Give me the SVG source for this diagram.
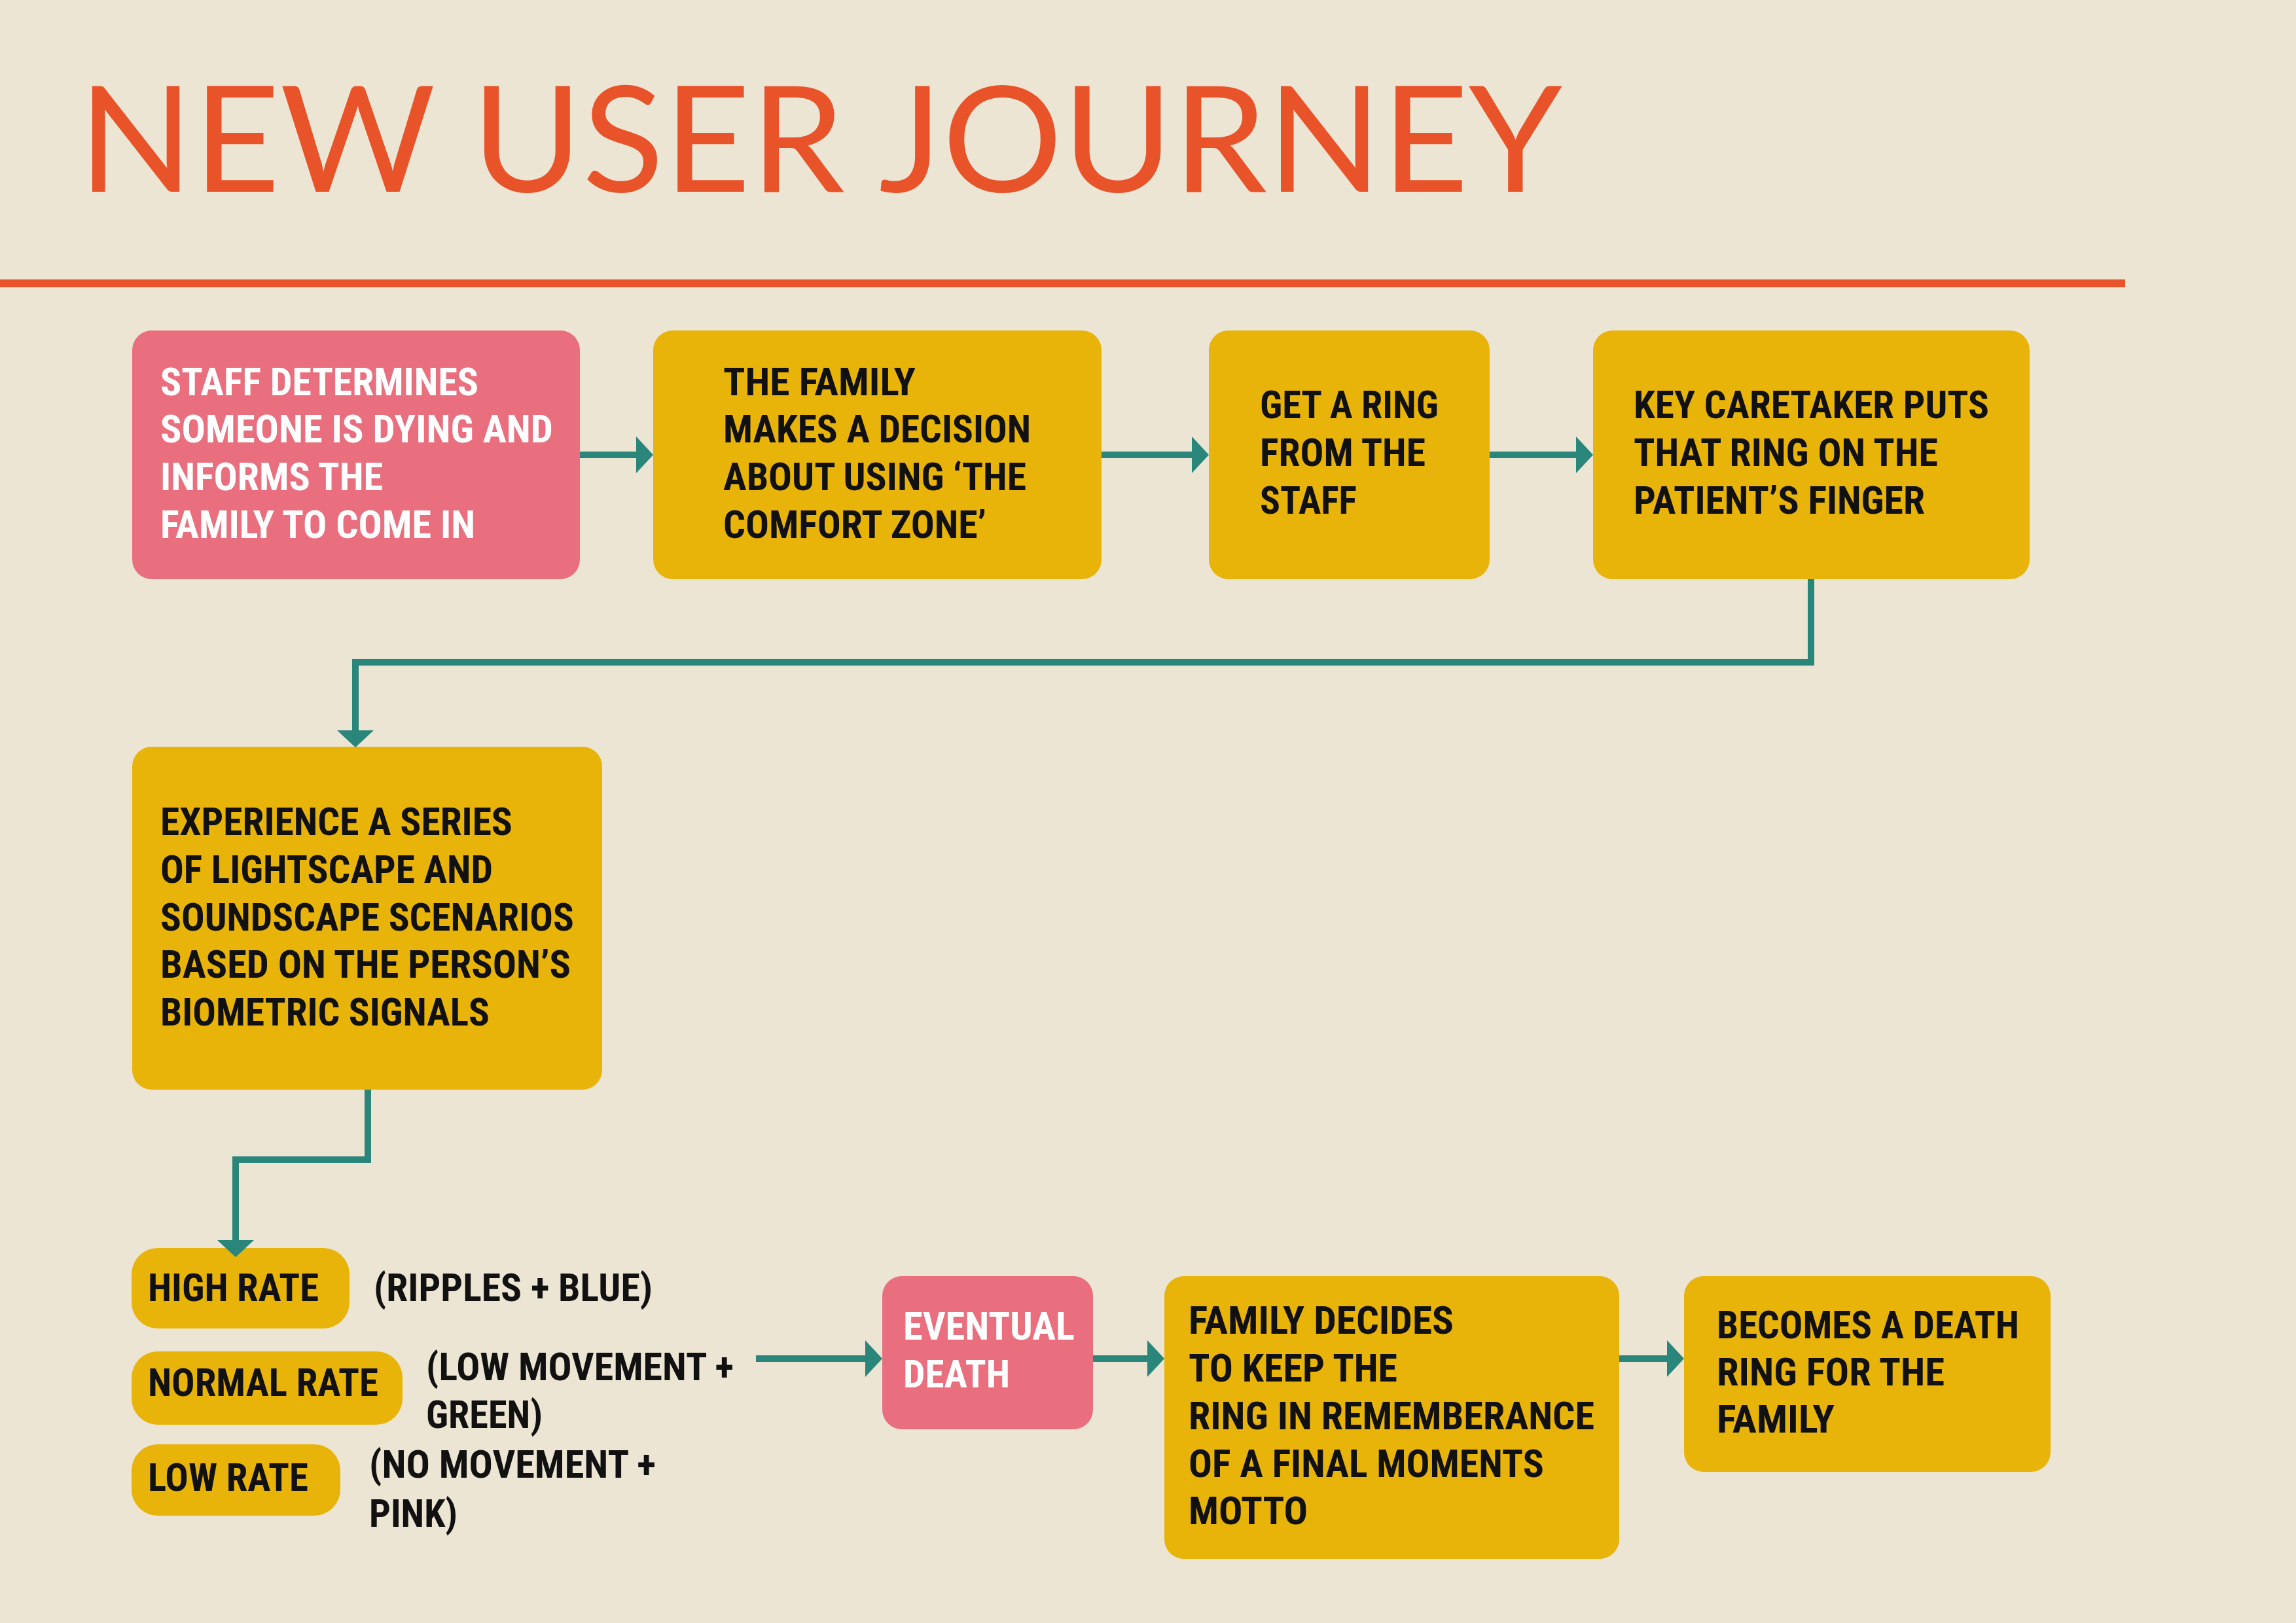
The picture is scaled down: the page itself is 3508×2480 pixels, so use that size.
<svg xmlns="http://www.w3.org/2000/svg" width="3508" height="2480" viewBox="0 0 3508 2480">
<defs>
<style>
.bg{fill:#ECE5D3}
.pink{fill:#E96F7F}
.yel{fill:#E8B40A}
.t{font-family:"Liberation Sans Narrow","Roboto Condensed","DejaVu Sans Condensed","Liberation Sans",sans-serif;font-weight:bold;font-size:60px}
.w{fill:#FFFFFF}
.k{fill:#111111}
.title{font-family:Lato,"Open Sans","Liberation Sans",sans-serif;font-size:225px;fill:#E8532A}
.con{fill:none;stroke:#2A857A;stroke-width:10;marker-end:url(#ah)}
</style>
<marker id="ah" viewBox="0 0 26 56" refX="6" refY="28" markerWidth="26" markerHeight="56" markerUnits="userSpaceOnUse" orient="auto">
<path d="M0,0 L26,28 L0,56 Z" fill="#2A857A"/>
</marker>
</defs>
<rect class="bg" x="0" y="0" width="3508" height="2480"/>
<g id="header">
<text class="title" x="120" y="293" textLength="2267" lengthAdjust="spacingAndGlyphs">NEW USER JOURNEY</text>
<rect x="0" y="427" width="3247" height="12" fill="#E8532A"/>
</g>
<g id="node-staff">
<rect class="pink" x="202" y="505" width="684" height="380" rx="30"/>
<text class="t w" x="245" y="604" textLength="486" lengthAdjust="spacingAndGlyphs">STAFF DETERMINES</text>
<text class="t w" x="245" y="676" textLength="600" lengthAdjust="spacingAndGlyphs">SOMEONE IS DYING AND</text>
<text class="t w" x="245" y="749" textLength="340" lengthAdjust="spacingAndGlyphs">INFORMS THE</text>
<text class="t w" x="245" y="822" textLength="481" lengthAdjust="spacingAndGlyphs">FAMILY TO COME IN</text>
</g>
<g id="node-decision">
<rect class="yel" x="998" y="505" width="685" height="380" rx="30"/>
<text class="t k" x="1105" y="604" textLength="294" lengthAdjust="spacingAndGlyphs">THE FAMILY</text>
<text class="t k" x="1105" y="676" textLength="470" lengthAdjust="spacingAndGlyphs">MAKES A DECISION</text>
<text class="t k" x="1105" y="749" textLength="463" lengthAdjust="spacingAndGlyphs">ABOUT USING ‘THE</text>
<text class="t k" x="1105" y="822" textLength="402" lengthAdjust="spacingAndGlyphs">COMFORT ZONE’</text>
</g>
<g id="node-ring">
<rect class="yel" x="1847" y="505" width="429" height="380" rx="30"/>
<text class="t k" x="1925" y="639" textLength="273" lengthAdjust="spacingAndGlyphs">GET A RING</text>
<text class="t k" x="1925" y="712" textLength="253" lengthAdjust="spacingAndGlyphs">FROM THE</text>
<text class="t k" x="1925" y="785" textLength="148" lengthAdjust="spacingAndGlyphs">STAFF</text>
</g>
<g id="node-caretaker">
<rect class="yel" x="2434" y="505" width="667" height="380" rx="30"/>
<text class="t k" x="2496" y="639" textLength="543" lengthAdjust="spacingAndGlyphs">KEY CARETAKER PUTS</text>
<text class="t k" x="2496" y="712" textLength="465" lengthAdjust="spacingAndGlyphs">THAT RING ON THE</text>
<text class="t k" x="2496" y="785" textLength="445" lengthAdjust="spacingAndGlyphs">PATIENT’S FINGER</text>
</g>
<g id="node-experience">
<rect class="yel" x="202" y="1141" width="718" height="524" rx="30"/>
<text class="t k" x="245" y="1276" textLength="538" lengthAdjust="spacingAndGlyphs">EXPERIENCE A SERIES</text>
<text class="t k" x="245" y="1349" textLength="508" lengthAdjust="spacingAndGlyphs">OF LIGHTSCAPE AND</text>
<text class="t k" x="245" y="1422" textLength="632" lengthAdjust="spacingAndGlyphs">SOUNDSCAPE SCENARIOS</text>
<text class="t k" x="245" y="1494" textLength="627" lengthAdjust="spacingAndGlyphs">BASED ON THE PERSON’S</text>
<text class="t k" x="245" y="1567" textLength="503" lengthAdjust="spacingAndGlyphs">BIOMETRIC SIGNALS</text>
</g>
<g id="node-high">
<rect class="yel" x="201" y="1907" width="333" height="123" rx="40"/>
<text class="t k" x="226" y="1988" textLength="261" lengthAdjust="spacingAndGlyphs">HIGH RATE</text>
<text class="t k" x="571" y="1988" textLength="426" lengthAdjust="spacingAndGlyphs">(RIPPLES + BLUE)</text>
</g>
<g id="node-normal">
<rect class="yel" x="201" y="2065" width="414" height="112" rx="40"/>
<text class="t k" x="226" y="2133" textLength="352" lengthAdjust="spacingAndGlyphs">NORMAL RATE</text>
<text class="t k" x="651" y="2109" textLength="470" lengthAdjust="spacingAndGlyphs">(LOW MOVEMENT +</text>
<text class="t k" x="651" y="2182" textLength="178" lengthAdjust="spacingAndGlyphs">GREEN)</text>
</g>
<g id="node-low">
<rect class="yel" x="201" y="2207" width="319" height="109" rx="40"/>
<text class="t k" x="226" y="2278" textLength="245" lengthAdjust="spacingAndGlyphs">LOW RATE</text>
<text class="t k" x="564" y="2258" textLength="438" lengthAdjust="spacingAndGlyphs">(NO MOVEMENT +</text>
<text class="t k" x="564" y="2333" textLength="135" lengthAdjust="spacingAndGlyphs">PINK)</text>
</g>
<g id="node-death">
<rect class="pink" x="1348" y="1950" width="322" height="234" rx="30"/>
<text class="t w" x="1380" y="2047" textLength="262" lengthAdjust="spacingAndGlyphs">EVENTUAL</text>
<text class="t w" x="1380" y="2120" textLength="163" lengthAdjust="spacingAndGlyphs">DEATH</text>
</g>
<g id="node-keep">
<rect class="yel" x="1779" y="1950" width="695" height="432" rx="30"/>
<text class="t k" x="1816" y="2038" textLength="405" lengthAdjust="spacingAndGlyphs">FAMILY DECIDES</text>
<text class="t k" x="1816" y="2111" textLength="319" lengthAdjust="spacingAndGlyphs">TO KEEP THE</text>
<text class="t k" x="1816" y="2184" textLength="620" lengthAdjust="spacingAndGlyphs">RING IN REMEMBERANCE</text>
<text class="t k" x="1816" y="2257" textLength="543" lengthAdjust="spacingAndGlyphs">OF A FINAL MOMENTS</text>
<text class="t k" x="1816" y="2329" textLength="182" lengthAdjust="spacingAndGlyphs">MOTTO</text>
</g>
<g id="node-deathring">
<rect class="yel" x="2573" y="1950" width="560" height="299" rx="30"/>
<text class="t k" x="2623" y="2045" textLength="462" lengthAdjust="spacingAndGlyphs">BECOMES A DEATH</text>
<text class="t k" x="2623" y="2117" textLength="348" lengthAdjust="spacingAndGlyphs">RING FOR THE</text>
<text class="t k" x="2623" y="2189" textLength="180" lengthAdjust="spacingAndGlyphs">FAMILY</text>
</g>
<g id="connectors">
<path class="con" d="M886,695 H978"/>
<path class="con" d="M1683,695 H1827"/>
<path class="con" d="M2276,695 H2414"/>
<path class="con" d="M2767,885 V1012 H543 V1122"/>
<path class="con" d="M562,1665 V1772 H360 V1901"/>
<path class="con" d="M1155,2076 H1328"/>
<path class="con" d="M1670,2076 H1759"/>
<path class="con" d="M2474,2076 H2553"/>
</g>
</svg>
